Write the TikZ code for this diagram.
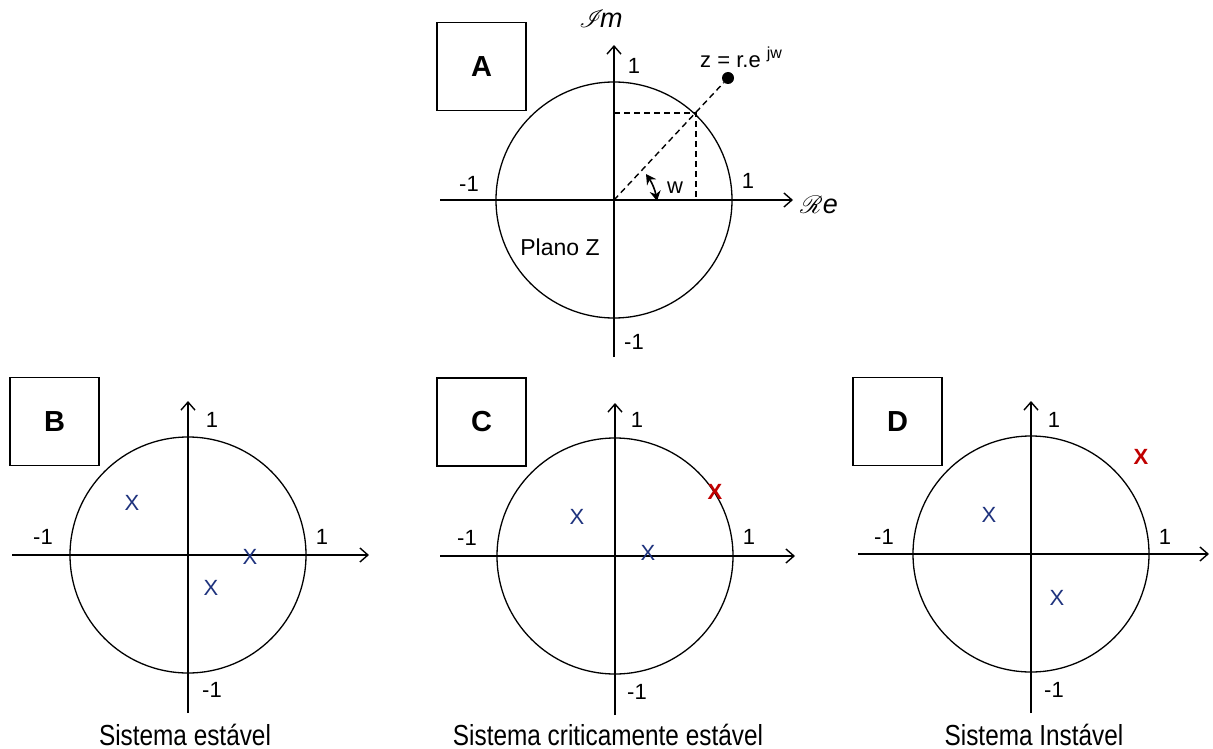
\documentclass[tikz,border=0pt]{standalone}
\usepackage{fontspec}
\setmainfont{Liberation Sans}
\usepackage{mathrsfs}
\usetikzlibrary{arrows.meta}
\definecolor{poleblue}{RGB}{30,50,125}
\definecolor{polered}{RGB}{192,0,0}
\begin{document}
\begin{tikzpicture}[x=1pt,y=-1pt,
  axis/.style={line width=1.5pt,-{Straight Barb[length=8pt,width=14pt,line width=1.4pt]}},
  unitc/.style={line width=1.3pt},
  lab/.style={font=\fontsize{22}{24}\selectfont,inner sep=0pt},
  pole/.style={text=poleblue,font=\fontsize{22}{24}\selectfont,inner sep=0pt},
  polex/.style={text=polered,font=\bfseries\fontsize{22}{24}\selectfont,inner sep=0pt},
  panelbox/.style={draw,line width=1.3pt,minimum width=89pt,minimum height=88pt,inner sep=0pt,font=\bfseries\fontsize{29}{30}\selectfont},
  capt/.style={font=\fontsize{29}{32}\selectfont,xscale=0.84,inner sep=0pt,anchor=base},
  dashl/.style={line width=1.4pt,dash pattern=on 6pt off 4pt}]
\useasboundingbox (0,0) rectangle (1213,749);

% ---------------- Panel A ----------------
\node[panelbox] (boxA) at (481.5,66.5) {A};
\coordinate (oA) at (614,200);
\coordinate (aAl) at (440,200);
\coordinate (aAr) at (793,200);
\coordinate (aAb) at (614,357);
\coordinate (aAt) at (614,45);
\draw[unitc] (oA) circle[radius=118];
\draw[axis] (aAl) -- (aAr);
\draw[axis] (aAb) -- (aAt);
\coordinate (pA) at (696,113);
\coordinate (pAx) at (696,200);
\coordinate (pAy) at (614,113);
\draw[dashl] (pAy) -- (pA) -- (pAx);
\node[circle,fill=black,inner sep=0pt,minimum size=12pt] (zdot) at (728,78) {};
\draw[dashl] (oA) -- (zdot);
\node[lab,anchor=base west] (zlab) at (700,68) {z = r.e \raisebox{9pt}{\fontsize{16}{17}\selectfont jw}};
\coordinate (wA) at (646,174);
\coordinate (wB) at (657,201);
\draw[line width=1.6pt,{Stealth[length=10pt,width=11pt]}-{Stealth[length=10pt,width=11pt]}] (wA) to[bend left=12] (wB);
\node[lab] (wlab) at (675,188) {w};
\node[lab] (a1t) at (634,66) {1};
\node[lab] (a1l) at (469,184) {-1};
\node[lab] (a1r) at (748,181) {1};
\node[lab] (a1b) at (634,342) {-1};
\node[lab,font=\fontsize{23}{26}\selectfont] (plano) at (560,247) {Plano Z};
\node[inner sep=0pt,font=\fontsize{27}{28}\selectfont] (imlab) at (601,19) {$\mathscr{I}\!\mathit{m}$};
\node[inner sep=0pt,font=\fontsize{27}{28}\selectfont] (relab) at (819,205) {$\mathscr{R}\mathit{e}$};

% ---------------- Panel B ----------------
\node[panelbox] (boxB) at (54.5,421.5) {B};
\coordinate (oB) at (188,555);
\coordinate (aBl) at (12,555);
\coordinate (aBr) at (369,555);
\coordinate (aBb) at (188,713);
\coordinate (aBt) at (188,401);
\draw[unitc] (oB) circle[radius=118];
\draw[axis] (aBl) -- (aBr);
\draw[axis] (aBb) -- (aBt);
\node[lab] (b1t) at (212,420) {1};
\node[lab] (b1l) at (43,537) {-1};
\node[lab] (b1r) at (322,537) {1};
\node[lab] (b1b) at (212,690) {-1};
\node[pole] (bp1) at (132,503) {X};
\node[pole] (bp2) at (250,557) {X};
\node[pole] (bp3) at (211,588) {X};
\node[capt] (capB) at (185,745) {Sistema estável};

% ---------------- Panel C ----------------
\node[panelbox] (boxC) at (481.5,422) {C};
\coordinate (oC) at (615,556);
\coordinate (aCl) at (440,556);
\coordinate (aCr) at (795,556);
\coordinate (aCb) at (615,715);
\coordinate (aCt) at (615,403);
\draw[unitc] (oC) circle[radius=118];
\draw[axis] (aCl) -- (aCr);
\draw[axis] (aCb) -- (aCt);
\node[lab] (c1t) at (637,420) {1};
\node[lab] (c1l) at (467,538) {-1};
\node[lab] (c1r) at (749,537) {1};
\node[lab] (c1b) at (637,692) {-1};
\node[pole] (cp1) at (577,517) {X};
\node[pole] (cp2) at (648,553) {X};
\node[polex] (cp3) at (715,492) {X};
\node[capt] (capC) at (608,745) {Sistema criticamente estável};

% ---------------- Panel D ----------------
\node[panelbox] (boxD) at (897.5,421.5) {D};
\coordinate (oD) at (1031,554);
\coordinate (aDl) at (858,554);
\coordinate (aDr) at (1209,554);
\coordinate (aDb) at (1031,713);
\coordinate (aDt) at (1031,401);
\draw[unitc] (oD) circle[radius=118];
\draw[axis] (aDl) -- (aDr);
\draw[axis] (aDb) -- (aDt);
\node[lab] (d1t) at (1054,420) {1};
\node[lab] (d1l) at (884,537) {-1};
\node[lab] (d1r) at (1165,537) {1};
\node[lab] (d1b) at (1054,690) {-1};
\node[pole] (dp1) at (989,515) {X};
\node[pole] (dp2) at (1057,598) {X};
\node[polex] (dp3) at (1141,457) {X};
\node[capt] (capD) at (1034,745) {Sistema Instável};
\end{tikzpicture}
\end{document}
